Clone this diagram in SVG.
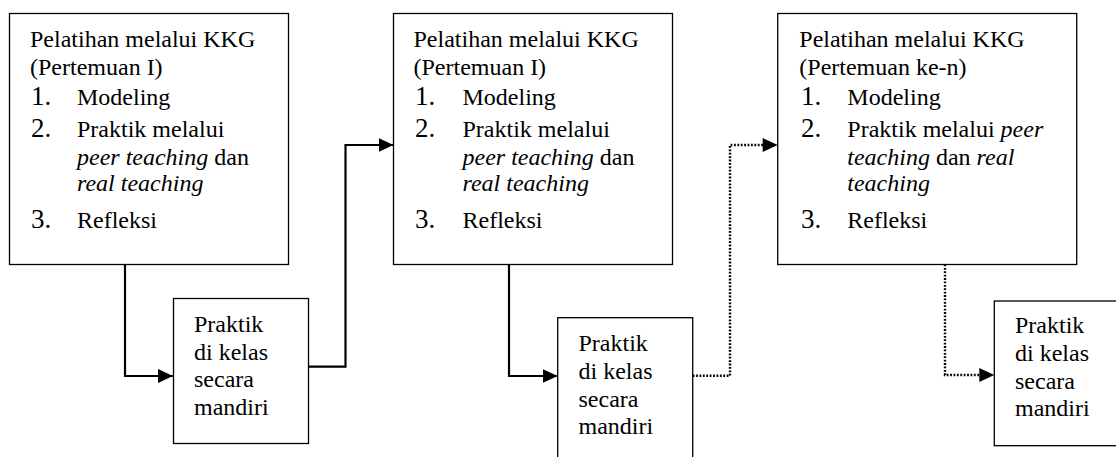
<svg xmlns="http://www.w3.org/2000/svg" width="1116" height="457" viewBox="0 0 1116 457">
<defs>
<style>
.box{fill:#fff;stroke:#000;stroke-width:1.3}
.t{font-size:24px;fill:#000}
.n{font-size:27px}
.i{font-style:italic}
.c{fill:none;stroke:#000;stroke-width:2.2}
.d{fill:none;stroke:#000;stroke-width:2.4;stroke-dasharray:1.8 1.6}
</style>
<marker id="ah" viewBox="0 0 15 14" refX="15" refY="7" markerWidth="15" markerHeight="14" markerUnits="userSpaceOnUse" orient="auto">
<path d="M0,0 L15,7 L0,14 z" fill="#000"/>
</marker>
</defs>
<rect width="1116" height="457" fill="#fff"/>
<g id="connectors">
<path class="c" d="M125 264.5 V376 H173" marker-end="url(#ah)"/>
<path class="c" d="M308.5 366.7 H345.5 V145 H393.5" marker-end="url(#ah)"/>
<path class="c" d="M509 264.5 V376 H557.7" marker-end="url(#ah)"/>
<path class="d" d="M692.7 375.7 H730 V145 H763" />
<path d="M762.7 138 L777.7 145 L762.7 152 z" fill="#000"/>
<path class="d" d="M945 264.5 V375 H980"/>
<path d="M979.3 368 L994.3 375 L979.3 382 z" fill="#000"/>
</g>
<g font-family="Liberation Serif, Times New Roman, serif">
<g id="kkg1">
<rect class="box" x="9.5" y="13.5" width="279" height="251"/>
<text class="t" x="30" y="47">Pelatihan melalui KKG</text>
<text class="t" x="30" y="75">(Pertemuan I)</text>
<text class="t n" x="31" y="105">1.</text><text class="t" x="77" y="105">Modeling</text>
<text class="t n" x="31" y="137">2.</text><text class="t" x="77" y="137">Praktik melalui</text>
<text class="t" x="77" y="164.5"><tspan class="i">peer teaching</tspan> dan</text>
<text class="t i" x="77" y="191">real teaching</text>
<text class="t n" x="31" y="228">3.</text><text class="t" x="77" y="228">Refleksi</text>
</g>
<g id="praktik1">
<rect class="box" x="173.5" y="298.5" width="135" height="145"/>
<text class="t" x="194" y="332">Praktik</text>
<text class="t" x="194" y="359.7">di kelas</text>
<text class="t" x="194" y="387.4">secara</text>
<text class="t" x="194" y="415.1">mandiri</text>
</g>
<g id="kkg2">
<rect class="box" x="393.5" y="13.5" width="279" height="251"/>
<text class="t" x="413.5" y="47">Pelatihan melalui KKG</text>
<text class="t" x="413.5" y="75">(Pertemuan I)</text>
<text class="t n" x="415" y="105">1.</text><text class="t" x="462.5" y="105">Modeling</text>
<text class="t n" x="415" y="137">2.</text><text class="t" x="462.5" y="137">Praktik melalui</text>
<text class="t" x="462.5" y="164.5"><tspan class="i">peer teaching</tspan> dan</text>
<text class="t i" x="462.5" y="191">real teaching</text>
<text class="t n" x="415" y="228">3.</text><text class="t" x="462.5" y="228">Refleksi</text>
</g>
<g id="praktik2">
<rect class="box" x="557.7" y="317.7" width="135" height="150"/>
<text class="t" x="578.5" y="351.2">Praktik</text>
<text class="t" x="578.5" y="378.9">di kelas</text>
<text class="t" x="578.5" y="406.6">secara</text>
<text class="t" x="578.5" y="434.3">mandiri</text>
</g>
<g id="kkg3">
<rect class="box" x="777.7" y="13.5" width="299" height="251"/>
<text class="t" x="799.3" y="47">Pelatihan melalui KKG</text>
<text class="t" x="799.3" y="75">(Pertemuan ke-n)</text>
<text class="t n" x="801" y="105">1.</text><text class="t" x="847.3" y="105">Modeling</text>
<text class="t n" x="801" y="137">2.</text><text class="t" x="847.3" y="137">Praktik melalui <tspan class="i">peer</tspan></text>
<text class="t" x="847.3" y="164.5"><tspan class="i">teaching</tspan> dan <tspan class="i">real</tspan></text>
<text class="t i" x="847.3" y="191">teaching</text>
<text class="t n" x="801" y="228">3.</text><text class="t" x="847.3" y="228">Refleksi</text>
</g>
<g id="praktik3">
<rect class="box" x="994.3" y="301" width="135" height="144.7"/>
<text class="t" x="1015" y="333.2">Praktik</text>
<text class="t" x="1015" y="360.9">di kelas</text>
<text class="t" x="1015" y="388.6">secara</text>
<text class="t" x="1015" y="416.3">mandiri</text>
</g>
</g>
</svg>
